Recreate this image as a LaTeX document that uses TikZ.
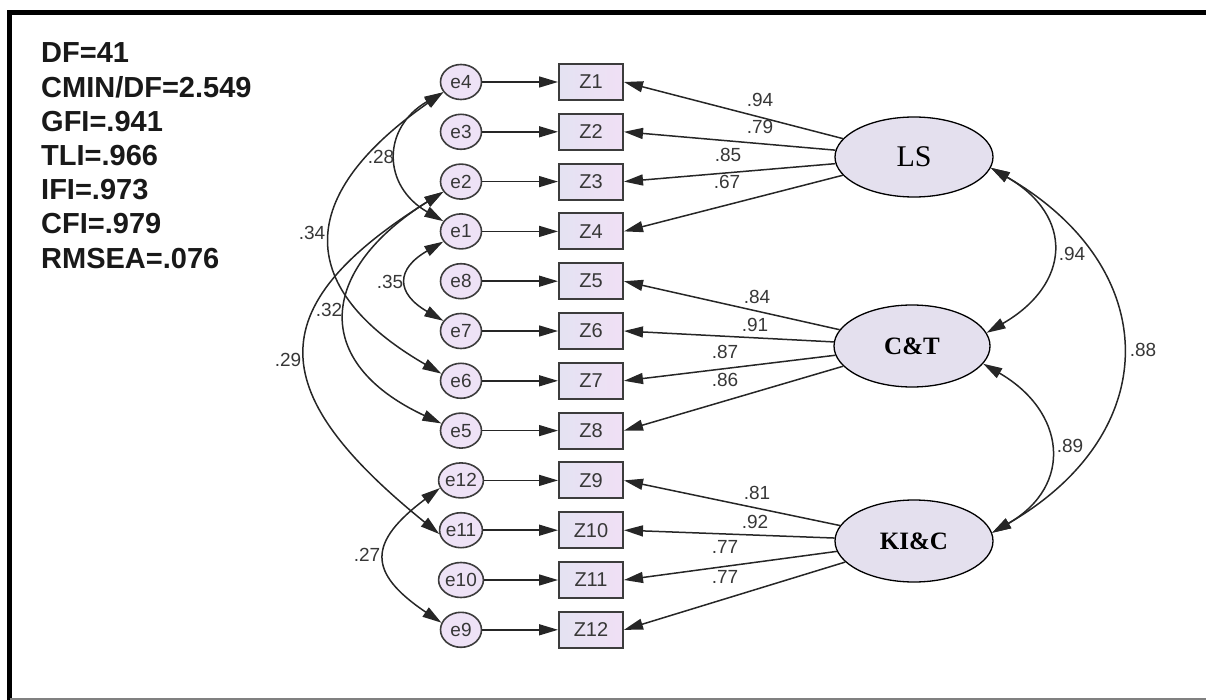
\documentclass[tikz,border=0pt]{standalone}
\usepackage{fontspec}
\setmainfont{Liberation Sans}
\newfontfamily\latentfont{Liberation Serif}
\usetikzlibrary{shapes.geometric,arrows.meta}
\definecolor{errfill}{RGB}{238,226,246}
\definecolor{boxleft}{RGB}{228,226,242}
\definecolor{boxright}{RGB}{240,224,245}
\definecolor{latfill}{RGB}{228,224,238}
\definecolor{edgegray}{RGB}{60,60,60}
\definecolor{numgray}{RGB}{55,55,55}
\begin{document}
\begin{tikzpicture}[x=1pt,y=1pt,
  tipA/.tip={Triangle[length=19pt,width=11pt]},
  err/.style={ellipse, draw=edgegray, line width=1.6pt, fill=errfill,
    minimum width=41pt, minimum height=35pt, inner sep=0pt,
    font=\fontsize{19}{19}\selectfont, text=numgray},
  obs/.style={rectangle, draw=edgegray, line width=2pt,
    left color=boxleft, right color=boxright,
    minimum width=64pt, minimum height=36pt, inner sep=0pt,
    font=\fontsize{20}{20}\selectfont, text=numgray},
  lat/.style={ellipse, draw=black, line width=1.3pt, fill=latfill, inner sep=0pt},
  regr/.style={line width=1.5pt, draw=black!85, -tipA},
  corr/.style={line width=1.5pt, draw=black!85, tipA-tipA},
  coef/.style={font=\fontsize{19}{19}\selectfont, text=numgray, inner sep=0pt},
  fitstat/.style={anchor=base west, inner sep=0pt, text=black!90,
    font=\bfseries\fontsize{29}{29}\selectfont}
]
\useasboundingbox (0,0) rectangle (1206,-700);

% frame
\draw[line width=5pt, line join=miter] (9.5,-700) -- (9.5,-12.5) -- (1206,-12.5);
\draw[gray, line width=1.5pt] (9.5,-699) -- (1206,-699);

% fit statistics
\foreach \t [count=\k from 0] in {DF=41, CMIN/DF=2.549, GFI=.941, TLI=.966, IFI=.973, CFI=.979, RMSEA=.076}
  \node[fitstat] (fit\k) at (41,{-63-34.17*\k}) {\t};

% error terms and observed indicators
\foreach \n/\z/\k in {4/1/0, 3/2/1, 2/3/2, 1/4/3, 8/5/4, 7/6/5, 6/7/6, 5/8/7,
                      12/9/8, 11/10/9, 10/11/10, 9/12/11} {
  \node[err] (e\n) at (461,{-82-49.8*\k}) {e\n};
  \node[obs] (Z\z) at (591,{-82-49.8*\k}) {Z\z};
  \draw[regr] (e\n) -- (Z\z);
}

% latent factors
\node[lat, minimum width=158pt, minimum height=80pt,
  font=\latentfont\fontsize{30}{30}\selectfont] (LS) at (914,-157) {LS};
\node[lat, minimum width=156pt, minimum height=82pt,
  font=\latentfont\bfseries\fontsize{25}{25}\selectfont] (CT) at (912,-346) {C\&T};
\node[lat, minimum width=158pt, minimum height=82pt,
  font=\latentfont\bfseries\fontsize{25}{25}\selectfont] (KIC) at (914,-541) {KI\&C};

% factor loadings
\foreach \f/\a/\b/\c/\d in {LS/1/2/3/4, CT/5/6/7/8, KIC/9/10/11/12} {
  \draw[regr] (\f) -- (Z\a.east);
  \draw[regr] (\f) -- (Z\b.east);
  \draw[regr] (\f) -- (Z\c.east);
  \draw[regr] (\f) -- (Z\d.east);
}
\node[coef] (l1) at (760,-100) {.94};
\node[coef] (l2) at (760,-127) {.79};
\node[coef] (l3) at (728,-155) {.85};
\node[coef] (l4) at (727,-182) {.67};
\node[coef] (l5) at (757,-297) {.84};
\node[coef] (l6) at (755,-325) {.91};
\node[coef] (l7) at (725,-352) {.87};
\node[coef] (l8) at (725,-380) {.86};
\node[coef] (l9) at (757,-493) {.81};
\node[coef] (l10) at (755,-522) {.92};
\node[coef] (l11) at (725,-547) {.77};
\node[coef] (l12) at (725,-577) {.77};

% factor covariances
\draw[corr] (LS.-8) .. controls +(-30:97) and +(30:97) .. (CT.10);
\draw[corr] (LS.-8) .. controls +(-30:200) and +(30:200) .. (KIC.6);
\draw[corr] (CT.-14) .. controls +(-30:95) and +(30:95) .. (KIC.6);
\node[coef] (r1) at (1072,-254) {.94};
\node[coef] (r2) at (1143,-350) {.88};
\node[coef] (r3) at (1070,-446) {.89};

% error covariances
\draw[corr] (e4.210) .. controls +(215:215) and +(150:135) .. (e6.160);
\draw[corr] (e4.210) .. controls +(210:71) and +(150:71) .. (e1.150);
\draw[corr] (e1.210) .. controls +(210:55) and +(150:55) .. (e7.150);
\draw[corr] (e2.210) .. controls +(212:146) and +(155:146) .. (e5.160);
\draw[corr] (e2.210) .. controls +(212:221) and +(141:221) .. (e11.190);
\draw[corr] (e12.200) .. controls +(217:90) and +(146:90) .. (e9.160);
\node[coef] (c1) at (381,-157) {.28};
\node[coef] (c2) at (312,-233) {.34};
\node[coef] (c3) at (390,-282) {.35};
\node[coef] (c4) at (329,-310) {.32};
\node[coef] (c5) at (288,-360) {.29};
\node[coef] (c6) at (367,-555) {.27};
\end{tikzpicture}
\end{document}
